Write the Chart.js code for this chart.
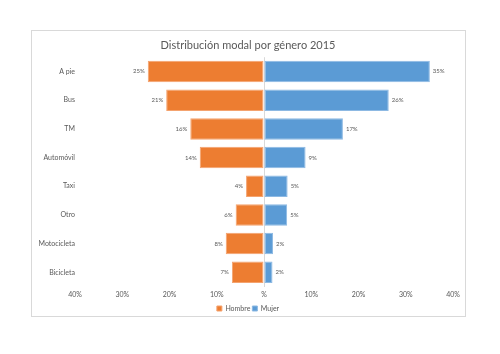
<!DOCTYPE html>
<html lang="es">
<head>
<meta charset="UTF-8">
<title>Distribución modal por género 2015</title>
<script src="https://cdn.jsdelivr.net/npm/chart.js@4/dist/chart.umd.min.js"></script>
<style>
  html, body { margin: 0; padding: 0; background: #fff; }
  #wrap { width: 500px; height: 354px; }
</style>
</head>
<body>
<div id="wrap"><canvas id="chart_canvas" width="500" height="354"></canvas></div>
<script>
    // categories and values (percent), Hombre drawn to the left
    var categories = ['A pie', 'Bus', 'TM', 'Automóvil', 'Taxi', 'Otro', 'Motocicleta', 'Bicicleta'];
    var hombre = [24.6, 20.7, 15.6, 13.6, 3.8, 6.0, 8.1, 6.8];
    var mujer = [35.1, 26.4, 16.7, 8.8, 5.0, 4.9, 1.9, 1.8];
    var xTicks = [-40, -30, -20, -10, 0, 10, 20, 30, 40];

    var grey = '#595959';
    var font = 'Lato, "Open Sans", sans-serif';

    // white page + thin frame like the excel chart area
    var framePlugin = {
        id: 'frame',
        beforeDraw: function (chart) {
            var ctx = chart.ctx;
            ctx.save();
            ctx.fillStyle = '#ffffff';
            ctx.fillRect(0, 0, chart.width, chart.height);
            ctx.strokeStyle = '#d9d9d9';
            ctx.lineWidth = 1;
            ctx.strokeRect(31.5, 30.5, 434, 286);
            ctx.restore();
        }
    };

    // percent labels outside the end of each bar
    var labelPlugin = {
        id: 'barLabels',
        afterDatasetsDraw: function (chart) {
            var ctx = chart.ctx;
            ctx.save();
            ctx.font = '6px ' + font;
            ctx.fillStyle = grey;
            ctx.textBaseline = 'middle';
            chart.data.datasets.forEach(function (ds, i) {
                var meta = chart.getDatasetMeta(i);
                meta.data.forEach(function (bar, j) {
                    var v = ds.data[j];
                    var txt = Math.round(Math.abs(v)) + '%';
                    if (v < 0) {
                        ctx.textAlign = 'right';
                        ctx.fillText(txt, bar.x - 3, bar.y);
                    } else {
                        ctx.textAlign = 'left';
                        ctx.fillText(txt, bar.x + 3, bar.y);
                    }
                });
            });
            ctx.restore();
        }
    };

    window._chart = new Chart(document.getElementById('chart_canvas'), {
        type: 'bar',
        plugins: [framePlugin, labelPlugin],
        data: {
            labels: categories,
            datasets: [
                {
                    label: 'Hombre',
                    data: hombre.map(function (v) { return -v; }),
                    backgroundColor: '#ED7D31',
                    borderColor: '#F4A36F',
                    borderWidth: 1,
                    borderSkipped: false
                },
                {
                    label: 'Mujer',
                    data: mujer,
                    backgroundColor: '#5B9BD5',
                    borderColor: '#8DB9E3',
                    borderWidth: 1,
                    borderSkipped: false
                }
            ]
        },
        options: {
            indexAxis: 'y',
            responsive: false,
            animation: false,
            layout: { padding: { left: 31, right: 35, top: 30, bottom: 32 } },
            datasets: {
                bar: { barPercentage: 0.75, categoryPercentage: 1 }
            },
            scales: {
                x: {
                    stacked: true,
                    min: -40,
                    max: 40,
                    afterBuildTicks: function (scale) {
                        scale.ticks = xTicks.map(function (v) { return { value: v }; });
                    },
                    ticks: {
                        padding: 4,
                        maxRotation: 0,
                        color: grey,
                        font: { family: font, size: 7 },
                        callback: function (v) { return v === 0 ? '%' : Math.abs(v) + '%'; }
                    },
                    grid: {
                        drawTicks: false,
                        color: function (c) { return c.tick && c.tick.value === 0 ? '#d9d9d9' : 'rgba(0,0,0,0)'; }
                    },
                    border: { display: false }
                },
                y: {
                    stacked: true,
                    afterFit: function (scale) { scale.width = 44; },
                    ticks: {
                        padding: 0,
                        color: grey,
                        font: { family: font, size: 7 }
                    },
                    grid: { display: false, drawTicks: false },
                    border: { display: false }
                },
                y2: {
                    position: 'right',
                    afterFit: function (scale) { scale.width = 12; },
                    ticks: { display: false },
                    grid: { display: false, drawTicks: false },
                    border: { display: false }
                }
            },
            plugins: {
                title: {
                    display: true,
                    text: 'Distribución modal por género 2015',
                    color: grey,
                    font: { family: font, size: 11, weight: 'normal' },
                    padding: { top: 9, bottom: 5 }
                },
                legend: {
                    position: 'bottom',
                    labels: {
                        boxWidth: 5,
                        boxHeight: 5,
                        padding: 2,
                        color: grey,
                        font: { family: font, size: 7 }
                    }
                },
                tooltip: { enabled: false }
            }
        }
    });
</script>
</body>
</html>
